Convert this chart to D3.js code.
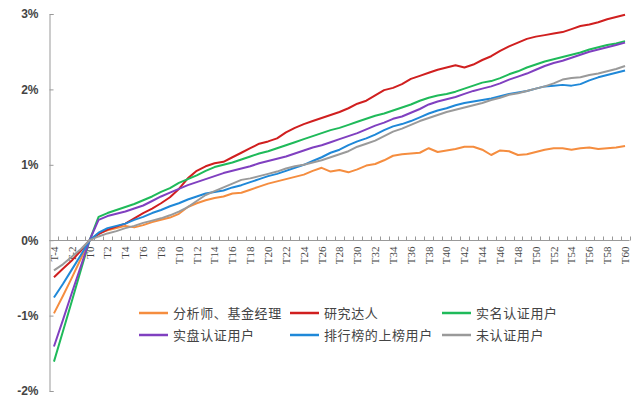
<!DOCTYPE html>
<html>
<head>
<meta charset="utf-8">
<script src="https://cdn.jsdelivr.net/npm/d3@7"></script>
<style>
  body { margin: 0; background: #fff; }
</style>
</head>
<body>
<div id="chart"></div>
<script>
// Categories: T-4 ... T60
const days = d3.range(-4, 61).map((d) => 'T' + d);

// Series values (percent)
const analyst = [
  -0.97, -0.74, -0.50, -0.25, 0,
  0.09, 0.13, 0.16, 0.19, 0.17, 0.20, 0.24, 0.27, 0.30, 0.35,
  0.44, 0.49, 0.53, 0.56, 0.58, 0.62, 0.63, 0.67, 0.71, 0.75,
  0.78, 0.81, 0.84, 0.87, 0.92, 0.96, 0.91, 0.93, 0.90, 0.94,
  0.99, 1.01, 1.06, 1.12, 1.14, 1.15, 1.16, 1.22, 1.17, 1.19,
  1.21, 1.24, 1.24, 1.20, 1.13, 1.19, 1.18, 1.13, 1.14, 1.17,
  1.20, 1.22, 1.22, 1.20, 1.22, 1.23, 1.21, 1.22, 1.23, 1.25,
];
const researcher = [
  -0.49, -0.38, -0.27, -0.14, 0,
  0.08, 0.14, 0.18, 0.22, 0.29, 0.36, 0.42, 0.49, 0.57, 0.68,
  0.82, 0.92, 0.98, 1.02, 1.04, 1.10, 1.16, 1.22, 1.28, 1.31,
  1.35, 1.43, 1.49, 1.54, 1.58, 1.62, 1.66, 1.70, 1.75, 1.81,
  1.85, 1.92, 1.99, 2.02, 2.07, 2.14, 2.18, 2.22, 2.26, 2.29,
  2.32, 2.29, 2.33, 2.39, 2.44, 2.51, 2.57, 2.62, 2.67, 2.70,
  2.72, 2.74, 2.76, 2.80, 2.84, 2.86, 2.89, 2.93, 2.96, 2.99,
];
const realName = [
  -1.61, -1.21, -0.81, -0.40, 0,
  0.31, 0.36, 0.40, 0.44, 0.48, 0.53, 0.58, 0.64, 0.69, 0.76,
  0.81, 0.86, 0.92, 0.97, 1.00, 1.03, 1.07, 1.11, 1.15, 1.18,
  1.22, 1.26, 1.30, 1.34, 1.38, 1.42, 1.46, 1.49, 1.53, 1.57,
  1.61, 1.65, 1.68, 1.72, 1.76, 1.80, 1.85, 1.89, 1.92, 1.94,
  1.97, 2.01, 2.05, 2.09, 2.11, 2.15, 2.20, 2.24, 2.29, 2.33,
  2.37, 2.40, 2.43, 2.46, 2.49, 2.53, 2.56, 2.59, 2.61, 2.64,
];
const realTrade = [
  -1.41, -1.06, -0.70, -0.35, 0,
  0.27, 0.32, 0.35, 0.38, 0.42, 0.46, 0.52, 0.58, 0.63, 0.68,
  0.73, 0.77, 0.81, 0.85, 0.89, 0.92, 0.95, 0.98, 1.02, 1.05,
  1.08, 1.11, 1.15, 1.19, 1.23, 1.26, 1.30, 1.34, 1.38, 1.42,
  1.47, 1.52, 1.56, 1.61, 1.64, 1.69, 1.74, 1.80, 1.84, 1.87,
  1.90, 1.94, 1.98, 2.01, 2.04, 2.08, 2.13, 2.17, 2.21, 2.26,
  2.31, 2.35, 2.38, 2.42, 2.46, 2.50, 2.53, 2.56, 2.59, 2.62,
];
const ranked = [
  -0.76, -0.58, -0.39, -0.20, 0,
  0.10, 0.16, 0.19, 0.22, 0.27, 0.31, 0.36, 0.40, 0.45, 0.49,
  0.54, 0.58, 0.62, 0.64, 0.66, 0.70, 0.73, 0.77, 0.81, 0.85,
  0.88, 0.92, 0.96, 1.00, 1.05, 1.10, 1.16, 1.20, 1.26, 1.31,
  1.35, 1.40, 1.46, 1.51, 1.54, 1.58, 1.63, 1.68, 1.72, 1.75,
  1.79, 1.82, 1.84, 1.86, 1.88, 1.91, 1.94, 1.96, 1.98, 2.01,
  2.04, 2.05, 2.06, 2.05, 2.07, 2.12, 2.16, 2.19, 2.22, 2.25,
];
const unverified = [
  -0.40, -0.32, -0.22, -0.12, 0,
  0.05, 0.09, 0.12, 0.16, 0.19, 0.23, 0.26, 0.29, 0.33, 0.38,
  0.44, 0.52, 0.60, 0.65, 0.70, 0.75, 0.80, 0.82, 0.85, 0.88,
  0.91, 0.95, 0.98, 1.00, 1.03, 1.06, 1.10, 1.14, 1.18, 1.24,
  1.28, 1.32, 1.38, 1.44, 1.48, 1.53, 1.58, 1.62, 1.66, 1.70,
  1.73, 1.76, 1.79, 1.82, 1.86, 1.89, 1.93, 1.95, 1.98, 2.01,
  2.04, 2.08, 2.13, 2.15, 2.16, 2.19, 2.21, 2.24, 2.27, 2.31,
];

const seriesNames = [
  '分析师、基金经理', '研究达人', '实名认证用户',
  '实盘认证用户', '排行榜的上榜用户', '未认证用户',
];
const seriesValues = [analyst, researcher, realName, realTrade, ranked, unverified];
const seriesColors = ['#f58d3f', '#d01f1f', '#1fba5a', '#8040c0', '#1f88d8', '#9a9a9a'];

const yTicks = [-2, -1, 0, 1, 2, 3];

// Set up svg area
const width = 639;
const height = 399;

const svg = d3
  .select('#chart')
  .append('svg')
  .attr('width', width)
  .attr('height', height)
  .style('font-family', '"Liberation Serif", serif');

// Scales
const x = d3.scalePoint().domain(days).range([49.5, 629.5]).padding(0.5);
const step = x.step();

const y = d3.scaleLinear().domain([-2, 3]).range([391, 14]);

// Draw y axis
const yAxis = d3
  .axisLeft(y)
  .tickValues(yTicks)
  .tickSize(-4)
  .tickPadding(11)
  .tickFormat((d) => d + '%');

const yG = svg.append('g').attr('transform', 'translate(49.5,0)').call(yAxis);
yG.select('.domain').attr('stroke', '#999');
yG.selectAll('.tick line').attr('stroke', '#999');
yG.selectAll('.tick text')
  .style('font-size', '12px')
  .style('font-weight', 'bold')
  .attr('fill', '#444');

// Draw x axis along zero line
const y0 = Math.round(y(0)) + 0.5;
svg
  .append('line')
  .attr('x1', 49.5)
  .attr('x2', x(days[days.length - 1]) + step / 2)
  .attr('y1', y0)
  .attr('y2', y0)
  .attr('stroke', '#999');

// Ticks between categories
svg
  .selectAll('.xtick')
  .data(days)
  .enter()
  .append('line')
  .attr('class', 'xtick')
  .attr('x1', (d) => Math.round(x(d) + step / 2) + 0.5)
  .attr('x2', (d) => Math.round(x(d) + step / 2) + 0.5)
  .attr('y1', y0 - 4)
  .attr('y2', y0)
  .attr('stroke', '#999');

// Category labels, every other day, rotated
svg
  .selectAll('.xlabel')
  .data(days.filter((d, i) => i % 2 === 0))
  .enter()
  .append('text')
  .attr('class', 'xlabel')
  .attr('transform', (d) => 'translate(' + x(d) + ',' + (y0 + 6) + ') rotate(-90)')
  .attr('text-anchor', 'end')
  .attr('dy', '0.35em')
  .style('font-size', '11px')
  .attr('fill', '#444')
  .text((d) => d);

// Draw lines
const line = d3
  .line()
  .x((d, i) => x(days[i]))
  .y((d) => y(d));

svg
  .selectAll('.series')
  .data(seriesValues)
  .enter()
  .append('path')
  .attr('class', 'series')
  .attr('fill', 'none')
  .attr('stroke', (d, i) => seriesColors[i])
  .attr('stroke-width', 2)
  .attr('stroke-linejoin', 'round')
  .attr('d', line);

// Legend: two rows, three columns
const legendX = [139, 290, 442];
const legendY = [313, 335];

const legend = svg
  .selectAll('.legend')
  .data(seriesNames)
  .enter()
  .append('g')
  .attr('class', 'legend')
  .attr('transform', (d, i) => 'translate(' + legendX[i % 3] + ',' + legendY[Math.floor(i / 3)] + ')');

legend
  .append('line')
  .attr('x1', 0)
  .attr('x2', 29)
  .attr('stroke', (d, i) => seriesColors[i])
  .attr('stroke-width', 2.5);

legend
  .append('text')
  .attr('x', 34)
  .attr('dy', '0.35em')
  .style('font-family', '"Noto Sans CJK SC", sans-serif')
  .style('font-size', '13px')
  .style('letter-spacing', '0.6px')
  .attr('fill', '#444')
  .text((d) => d);
</script>
</body>
</html>
